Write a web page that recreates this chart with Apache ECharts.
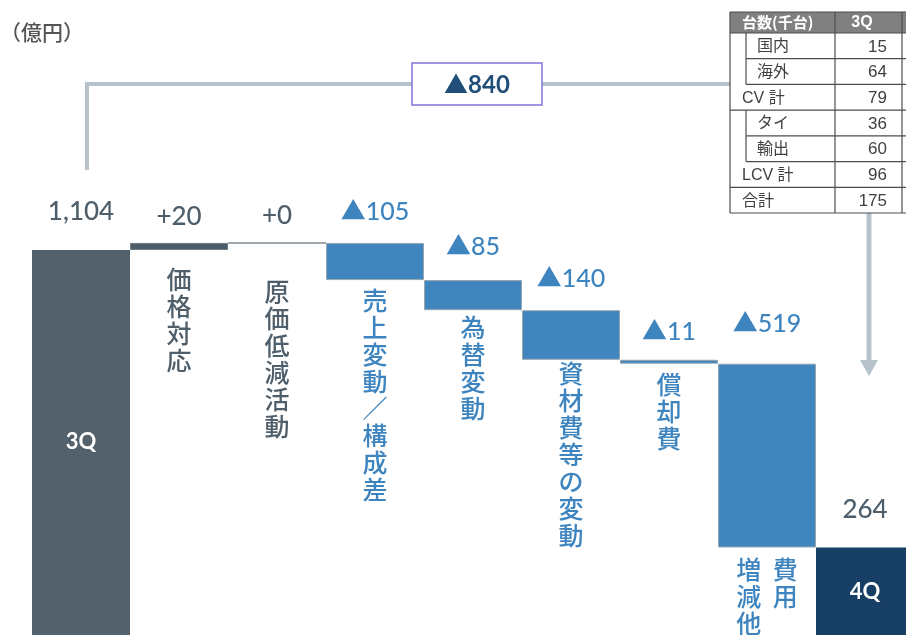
<!DOCTYPE html>
<html>
<head>
<meta charset="utf-8">
<script src="https://cdn.jsdelivr.net/npm/echarts@6/dist/echarts.min.js"></script>
<style>
  html, body { margin: 0; padding: 0; background: #ffffff; overflow: hidden; }
  /* the last bar and the baseline run a few pixels past the visible frame */
  #chart { width: 914px; height: 641px; }
</style>
</head>
<body>
<div id="chart"></div>
<script>
// 営業利益 増減要因（億円）
const stepNames = ['3Q', '価格対応', '原価低減活動', '売上変動／構成差', '為替変動', '資材費等の変動', '償却費', '費用増減他', '4Q'];
const startValue = 1104;
const deltas = [20, 0, -105, -85, -140, -11, -519];
const endValue = 264;

// 台数（千台）
const unitRows = ['国内', '海外', 'CV 計', 'タイ', '輸出', 'LCV 計', '合計'];
const unitIndent = [true, true, false, true, true, false, false];
const units3Q = [15, 64, 79, 36, 60, 96, 175];

const FONT = "Lato, 'Noto Sans CJK JP', sans-serif";
const CJK = "'Noto Sans CJK JP', sans-serif";
const GRAY = '#52616b';
const GRAY_TXT = '#4e5e6a';
const BLUE = '#4085bd';
const BLUE_TXT = '#3e85c0';
const NAVY = '#173f66';
const CONNECTOR = '#b7c3cb';

function fmt(n) {
  return String(Math.abs(n)).replace(/\B(?=(\d{3})+(?!\d))/g, ',');
}

// waterfall: invisible base + floating step
const baseVals = [startValue];
const stepVals = [0];
let running = startValue;
deltas.forEach(d => {
  const next = running + d;
  baseVals.push(Math.min(running, next));
  stepVals.push(Math.abs(d));
  running = next;
});
baseVals.push(endValue);
stepVals.push(0);

const valueTexts = [fmt(startValue)]
  .concat(deltas.map(d => (d < 0 ? '▲' : '+') + fmt(d)))
  .concat([fmt(endValue)]);

// vertical (tategaki) label; multiple columns read right to left
function vertical(cols) {
  const rows = Math.max(...cols.map(c => c.length));
  const lines = [];
  for (let r = 0; r < rows; r++) {
    const cells = cols.slice().reverse().map(c => c[r] || '\u3000');
    lines.push(cells.join('  '));
  }
  return lines.join('\n');
}
const labelColumns = { '費用増減他': ['費用', '増減他'] };

// label placement tweaks per step
const nameGap = [0, 16, 35, 7, 4, 0, 7, 8, 0];
const valueGap = [25, 13, 14, 18, 21, 19, 15, 27, 25];
const last = stepNames.length - 1;

const baseData = stepNames.map((name, i) => {
  if (i === 0 || i === last) {
    return {
      value: baseVals[i],
      itemStyle: { color: i === 0 ? GRAY : NAVY },
      label: {
        show: true, position: 'inside', formatter: name, offset: [0, i === 0 ? -4 : -2],
        color: '#ffffff', fontFamily: FONT, fontSize: 22, fontWeight: 'bold'
      }
    };
  }
  const isBlue = deltas[i - 1] < 0;
  return {
    value: baseVals[i],
    itemStyle: { color: 'rgba(0,0,0,0)' },
    label: {
      show: true, position: 'insideTop', distance: nameGap[i],
      formatter: vertical(labelColumns[name] || [name]),
      color: isBlue ? BLUE_TXT : GRAY_TXT,
      fontFamily: CJK, fontSize: 25, lineHeight: 27, fontWeight: 500
    }
  };
});

const stepData = stepNames.map((name, i) => {
  const ends = i === 0 || i === last;
  const isBlue = !ends && deltas[i - 1] < 0;
  let itemStyle;
  if (ends) itemStyle = { color: 'rgba(0,0,0,0)', borderWidth: 0 };
  else if (isBlue) itemStyle = { color: BLUE, borderColor: '#98a6af', borderWidth: 1 };
  else if (stepVals[i] === 0) itemStyle = { color: '#ffffff', borderColor: '#7f8c95', borderWidth: 1.5 };
  else itemStyle = { color: '#4c5d68', borderColor: '#6d7c86', borderWidth: 1 };
  return {
    value: stepVals[i],
    itemStyle,
    label: {
      show: true, position: 'top', distance: valueGap[i],
      formatter: valueTexts[i],
      color: isBlue ? BLUE_TXT : GRAY_TXT,
      fontFamily: FONT, fontSize: isBlue ? 25 : 26, fontWeight: 500
    }
  };
});

// 台数表
const T = { left: 730, sub: 746, col: 835, col2: 902, right: 914, top: 12, head: 33, bottom: 213 };
const rowH = (T.bottom - T.head) / unitRows.length;
const tableEls = [];
tableEls.push({ type: 'rect', shape: { x: T.left, y: T.top, width: T.right - T.left, height: T.head - T.top }, style: { fill: '#808080' } });
tableEls.push({ type: 'text', style: { x: 742, y: (T.top + T.head) / 2, text: '台数(千台)', fill: '#ffffff', font: "bold 15px " + CJK, textVerticalAlign: 'middle' } });
tableEls.push({ type: 'text', style: { x: 862, y: (T.top + T.head) / 2, text: '3Q', fill: '#ffffff', font: "bold 16px 'Liberation Sans', sans-serif", textAlign: 'center', textVerticalAlign: 'middle' } });
const lineStyle = { stroke: '#4d4d4d', lineWidth: 1.2 };
function hline(x1, x2, y) { tableEls.push({ type: 'line', shape: { x1, y1: y, x2, y2: y }, style: lineStyle }); }
function vline(x, y1, y2) { tableEls.push({ type: 'line', shape: { x1: x, y1, x2: x, y2 }, style: lineStyle }); }
hline(T.left, T.right, T.top);
hline(T.left, T.right, T.head);
unitRows.forEach((name, i) => {
  const y0 = T.head + i * rowH;
  const y1 = y0 + rowH;
  const cy = y0 + rowH / 2 + 1;
  hline(unitIndent[i] ? T.sub : T.left, T.right, y1);
  if (unitIndent[i]) vline(T.sub, y0, y1);
  tableEls.push({ type: 'text', style: { x: unitIndent[i] ? 757 : 742, y: cy, text: name, fill: '#404040', font: "16px 'Liberation Sans', " + CJK, textVerticalAlign: 'middle' } });
  tableEls.push({ type: 'text', style: { x: 887, y: cy, text: String(units3Q[i]), fill: '#404040', font: "17px 'Liberation Sans', sans-serif", textAlign: 'right', textVerticalAlign: 'middle' } });
});
vline(T.left, T.top, T.bottom);
vline(T.col, T.top, T.bottom);
vline(T.col2, T.top, T.bottom);

const totalChange = endValue - startValue;

const chart = echarts.init(document.getElementById('chart'), null, { renderer: 'canvas' });
chart.setOption({
  animation: false,
  backgroundColor: '#ffffff',
  grid: { left: 32, right: 0, top: 216, bottom: 0, containLabel: false },
  xAxis: { type: 'category', data: stepNames, show: false },
  yAxis: { type: 'value', min: 0, max: 1200, show: false },
  series: [
    { type: 'bar', stack: 'w', barCategoryGap: '0%', data: baseData, silent: true, z: 2 },
    { type: 'bar', stack: 'w', barCategoryGap: '0%', data: stepData, silent: true, z: 3 }
  ],
  graphic: [
    { type: 'text', left: 0, top: 22, style: { text: '（億円）', fill: '#555555', font: '500 21px ' + CJK } },
    { type: 'polyline', shape: { points: [[87, 170], [87, 84], [412, 84]] }, style: { stroke: CONNECTOR, lineWidth: 4, fill: null } },
    { type: 'line', shape: { x1: 542, y1: 84, x2: 730, y2: 84 }, style: { stroke: CONNECTOR, lineWidth: 4 } },
    { type: 'rect', shape: { x: 412, y: 63, width: 130, height: 42 }, style: { fill: '#ffffff', stroke: '#7d74d6', lineWidth: 1.5 } },
    { type: 'text', style: { x: 477, y: 85, text: '▲' + fmt(totalChange), fill: '#1f4e79', font: 'bold 24px ' + FONT, textAlign: 'center', textVerticalAlign: 'middle' } },
    { type: 'line', shape: { x1: 869, y1: 213, x2: 869, y2: 362 }, style: { stroke: CONNECTOR, lineWidth: 5 } },
    { type: 'polygon', shape: { points: [[860, 360], [878, 360], [869, 376]] }, style: { fill: CONNECTOR } },
    { type: 'group', children: tableEls }
  ]
});
</script>
</body>
</html>
